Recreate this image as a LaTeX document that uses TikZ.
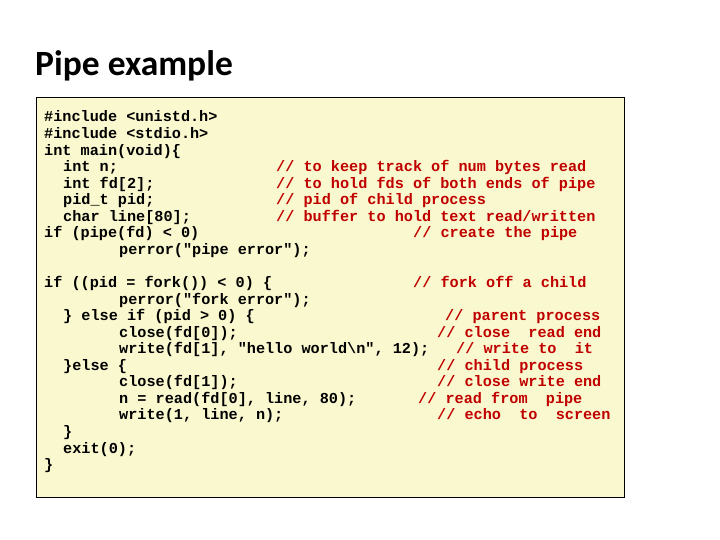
\documentclass[tikz,border=0pt]{standalone}
\usepackage{fontspec}
\setmainfont{Carlito}
\newfontfamily\codefont{Liberation Mono}
\definecolor{boxfill}{RGB}{250,248,206}
\definecolor{cmt}{RGB}{192,0,0}
\begin{document}
\begin{tikzpicture}[x=1pt,y=-1pt,
  code/.style={anchor=base west,inner sep=0pt,font=\codefont\bfseries\fontsize{15.2}{16}\selectfont},
  cmnt/.style={code,text=cmt}]
\useasboundingbox (0,0) rectangle (720,540);
\node[anchor=base west,inner sep=0pt,font=\bfseries\fontsize{35.5}{38}\selectfont] (title) at (35,76) {Pipe example};
\node[draw=black,line width=0.6pt,fill=boxfill,minimum width=588,minimum height=400,anchor=north west,inner sep=0pt] (box) at (36,97) {};
\def\L#1{\fpeval{122+16.55*(#1)}}
\node[code] (l1) at (44,\L0) {\#include <unistd.h>};
\node[code] (l2) at (44,\L1) {\#include <stdio.h>};
\node[code] (l3) at (44,\L2) {int main(void)\{};
\node[code] (l4) at (63,\L3) {int n;};
\node[cmnt] (c4) at (276,\L3) {// to keep track of num bytes read};
\node[code] (l5) at (63,\L4) {int fd[2];};
\node[cmnt] (c5) at (276,\L4) {// to hold fds of both ends of pipe};
\node[code] (l6) at (63,\L5) {pid\_t pid;};
\node[cmnt] (c6) at (276,\L5) {// pid of child process};
\node[code] (l7) at (63,\L6) {char line[80];};
\node[cmnt] (c7) at (276,\L6) {// buffer to hold text read/written};
\node[code] (l8) at (44,\L7) {if (pipe(fd) < 0)};
\node[cmnt] (c8) at (413,\L7) {// create the pipe};
\node[code] (l9) at (119,\L8) {perror("pipe error");};
\node[code] (l10) at (44,\L{10}) {if ((pid = fork()) < 0) \{};
\node[cmnt] (c10) at (413,\L{10}) {// fork off a child};
\node[code] (l11) at (119,\L{11}) {perror("fork error");};
\node[code] (l12) at (63,\L{12}) {\} else if (pid > 0) \{};
\node[cmnt] (c12) at (445,\L{12}) {// parent process};
\node[code] (l13) at (119,\L{13}) {close(fd[0]);};
\node[cmnt] (c13) at (437,\L{13}) {// close\ \ read end};
\node[code] (l14) at (119,\L{14}) {write(fd[1], "hello world\textbackslash n", 12);};
\node[cmnt] (c14) at (456,\L{14}) {// write to\ \ it};
\node[code] (l15) at (63,\L{15}) {\}else \{};
\node[cmnt] (c15) at (437,\L{15}) {// child process};
\node[code] (l16) at (119,\L{16}) {close(fd[1]);};
\node[cmnt] (c16) at (437,\L{16}) {// close write end};
\node[code] (l17) at (119,\L{17}) {n = read(fd[0], line, 80);};
\node[cmnt] (c17) at (418,\L{17}) {// read from\ \ pipe};
\node[code] (l18) at (119,\L{18}) {write(1, line, n);};
\node[cmnt] (c18) at (437,\L{18}) {// echo\ \ to\ \ screen};
\node[code] (l19) at (63,\L{19}) {\}};
\node[code] (l20) at (63,\L{20}) {exit(0);};
\node[code] (l21) at (44,\L{21}) {\}};
\end{tikzpicture}
\end{document}
